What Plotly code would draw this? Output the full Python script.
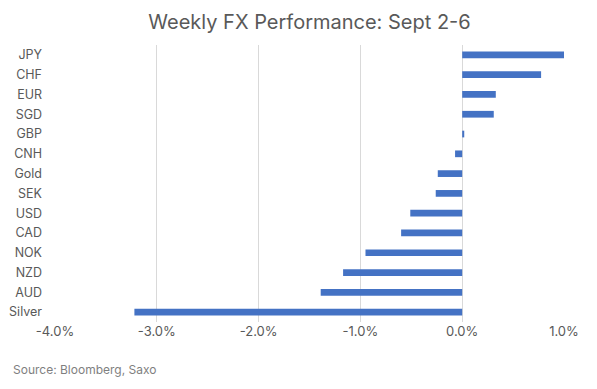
import plotly.graph_objects as go

categories = ["JPY", "CHF", "EUR", "SGD", "GBP", "CNH", "Gold", "SEK",
              "USD", "CAD", "NOK", "NZD", "AUD", "Silver"]
values = [1.00, 0.775, 0.33, 0.31, 0.02, -0.07, -0.24, -0.26,
          -0.51, -0.60, -0.95, -1.17, -1.39, -3.22]
tick_values = [-4, -3, -2, -1, 0, 1]
tick_labels = ["-4.0%", "-3.0%", "-2.0%", "-1.0%", "0.0%", "1.0%"]

FONT = "Inter, Roboto, Arial, sans-serif"

fig = go.Figure(go.Bar(
    x=values, y=categories, orientation="h",
    marker=dict(color="#4472C4", line=dict(width=0)),
    hoverinfo="x+y",
))

fig.update_layout(
    width=597, height=389,
    margin=dict(l=47, r=41, t=37, b=75),
    paper_bgcolor="white", plot_bgcolor="white",
    font=dict(family=FONT, size=12, color="#595959"),
    title=dict(text="Weekly FX Performance: Sept 2-6", x=0.5, xanchor="center",
               xref="paper", y=0.963, yanchor="middle",
               font=dict(family=FONT, size=20, color="#595959")),
    bargap=0.66,
    showlegend=False,
    xaxis=dict(range=[-4, 1], tickvals=tick_values, ticktext=tick_labels,
               showgrid=True, gridcolor="#d9d9d9", gridwidth=1,
               zeroline=False, showline=False, ticks="", automargin=False,
               tickfont=dict(family=FONT, size=13, color="#595959")),
    yaxis=dict(categoryorder="array", categoryarray=categories,
               autorange="reversed", showgrid=False, zeroline=False,
               showline=False, ticks="", ticklabelstandoff=12, automargin=False,
               tickfont=dict(family=FONT, size=12.5, color="#595959")),
    annotations=[dict(text="Source: Bloomberg, Saxo", xref="paper", yref="paper",
                      x=-0.0865, y=-0.17, xanchor="left", yanchor="middle",
                      showarrow=False, font=dict(family=FONT, size=12, color="#7f7f7f"))],
)

fig.write_html("out.html")
